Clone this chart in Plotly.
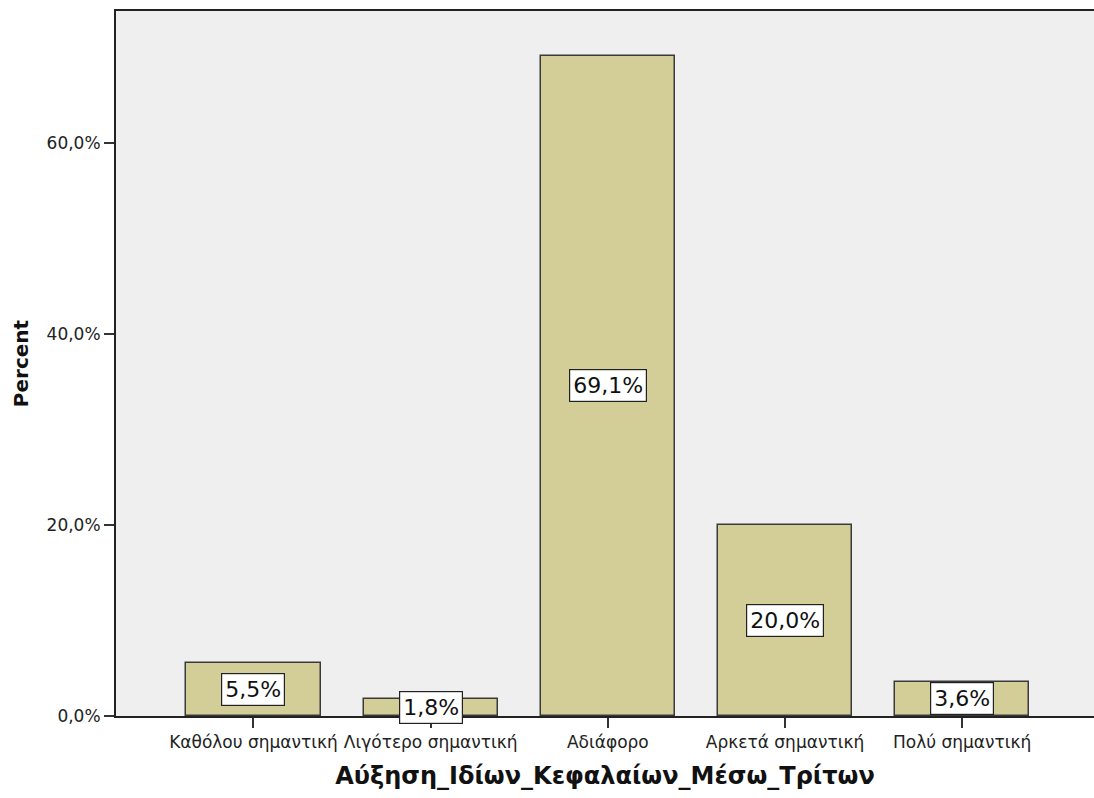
import plotly.graph_objects as go

categories = ["Καθόλου σημαντική", "Λιγότερο σημαντική", "Αδιάφορο", "Αρκετά σημαντική", "Πολύ σημαντική"]
percent = [5.5, 1.8, 69.1, 20.0, 3.6]
bar_labels = ["5,5%", "1,8%", "69,1%", "20,0%", "3,6%"]
ytick_vals = [0, 20, 40, 60]
ytick_text = ["0,0%", "20,0%", "40,0%", "60,0%"]
x_title = "Αύξηση_Ιδίων_Κεφαλαίων_Μέσω_Τρίτων"
y_title = "Percent"

FONT = "DejaVu Sans, Verdana, sans-serif"

fig = go.Figure()
fig.add_trace(go.Bar(
    x=list(range(len(categories))),
    y=percent,
    width=0.757,
    marker=dict(color="#d3cd98", line=dict(color="#3a3a3a", width=1.5)),
    hoverinfo="skip",
))

for i, (v, t) in enumerate(zip(percent, bar_labels)):
    fig.add_annotation(
        x=i, y=v / 2, text=t, showarrow=False,
        font=dict(family=FONT, size=22, color="#111"),
        bgcolor="white", bordercolor="#222", borderwidth=1.2, borderpad=3,
        xanchor="center", yanchor="middle",
    )

fig.update_layout(
    width=1094, height=798,
    margin=dict(l=116, r=0, t=11, b=82, autoexpand=False),
    paper_bgcolor="white", plot_bgcolor="#efefef",
    showlegend=False, bargap=0,
    font=dict(family=FONT, color="#222"),
)
fig.update_xaxes(
    range=[-0.776, 4.744],
    tickvals=list(range(len(categories))), ticktext=categories,
    tickfont=dict(size=17, color="#222"),
    ticks="outside", ticklen=10, tickwidth=1.5, tickcolor="#333",
    showline=True, linecolor="#222", linewidth=2, mirror=True,
    showgrid=False, zeroline=False,
    title=dict(text="<b>" + x_title + "</b>", font=dict(size=24, color="#111"), standoff=16),
)
fig.update_yaxes(
    range=[0, 73.8],
    tickvals=ytick_vals, ticktext=ytick_text,
    tickfont=dict(size=17, color="#222"),
    ticks="outside", ticklen=10, tickwidth=1.5, tickcolor="#333",
    showline=True, linecolor="#222", linewidth=2,
    showgrid=False, zeroline=False,
    title=dict(text="<b>" + y_title + "</b>", font=dict(size=20, color="#111"), standoff=13),
)

fig.write_html(
    "out.html",
    config={"displayModeBar": False},
    post_script="document.body.style.margin='0';document.body.style.overflow='hidden';window.dispatchEvent(new Event('resize'));",
)
